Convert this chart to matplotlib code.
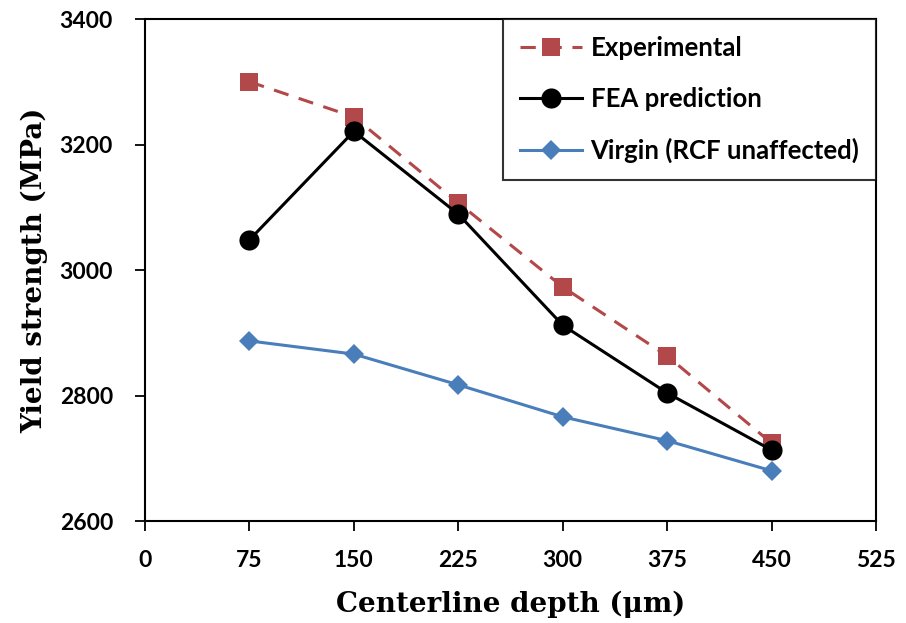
import matplotlib
matplotlib.use("Agg")
import matplotlib.pyplot as plt

depth = [75, 150, 225, 300, 375, 450]
experimental = [3300, 3244, 3107, 2973, 2863, 2724]
fea = [3048, 3221, 3089, 2912, 2804, 2713]
virgin = [2887, 2866, 2817, 2766, 2728, 2680]

x_ticks = [0, 75, 150, 225, 300, 375, 450, 525]
y_ticks = [2600, 2800, 3000, 3200, 3400]

sans = ["Lato", "DejaVu Sans"]
serif = ["DejaVu Serif"]

fig = plt.figure(figsize=(9.06, 6.23), dpi=100)
ax = fig.add_axes([0.160, 0.1637, 0.807, 0.8058])

ax.plot(depth, experimental, color="#B3484A", linestyle=(0, (5, 3.5)), linewidth=2.2,
        marker="s", markersize=13.5, markeredgewidth=0, label="Experimental")
ax.plot(depth, fea, color="black", linewidth=2.2,
        marker="o", markersize=14.5, markeredgewidth=0, label="FEA prediction")
ax.plot(depth, virgin, color="#4A7EBB", linewidth=2.2,
        marker="D", markersize=10, markeredgewidth=0, label="Virgin (RCF unaffected)")

ax.set_xlim(0, 525)
ax.set_ylim(2600, 3400)
ax.set_xticks(x_ticks)
ax.set_yticks(y_ticks)
ax.tick_params(direction="out", length=7, width=1.3)
ax.tick_params(axis="x", pad=14)
ax.tick_params(axis="y", pad=16)
for lab in ax.get_xticklabels() + ax.get_yticklabels():
    lab.set_family(sans)
    lab.set_fontweight("bold")
    lab.set_fontsize(16.5)
for s in ax.spines.values():
    s.set_linewidth(1.5)

ax.set_xlabel("Centerline depth (μm)", family=serif, fontweight="bold",
              fontsize=20, labelpad=14)
ax.set_ylabel("Yield strength (MPa)", family=serif, fontweight="bold",
              fontsize=20, labelpad=8)

leg = ax.legend(loc="upper right", borderaxespad=0, fancybox=False, handlelength=2.4,
                labelspacing=1.05, borderpad=0.65, handletextpad=0.35,
                prop={"family": sans, "weight": "bold", "size": 18.5})
leg.get_frame().set_edgecolor("black")
leg.get_frame().set_linewidth(1.5)

plt.savefig("out.png", dpi=100)
